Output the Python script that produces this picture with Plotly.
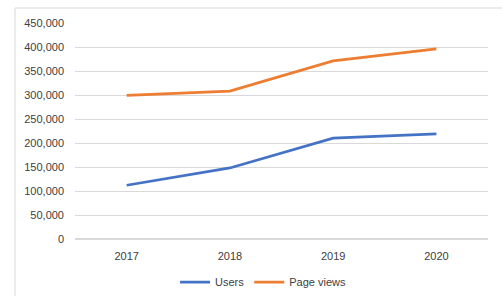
import plotly.graph_objects as go

years = ["2017", "2018", "2019", "2020"]
users = [112000, 148000, 210000, 219000]
page_views = [299000, 308000, 371000, 396000]

fig = go.Figure()
fig.add_trace(go.Scatter(x=years, y=users, mode="lines", name="Users",
                         line=dict(color="#4472C4", width=2.75)))
fig.add_trace(go.Scatter(x=years, y=page_views, mode="lines", name="Page views",
                         line=dict(color="#ED7D31", width=2.75)))

font = dict(family="Liberation Sans, Arial, sans-serif", size=11, color="#404040")
fig.update_layout(
    width=502, height=296,
    margin=dict(l=75, r=14, t=23, b=57, autoexpand=False),
    paper_bgcolor="white", plot_bgcolor="white",
    font=font,
    showlegend=True,
    legend=dict(orientation="h", xref="container", yref="container",
                x=0.524, xanchor="center", y=0.047, yanchor="middle",
                font=font, itemwidth=30, tracegroupgap=0),
    xaxis=dict(type="category", range=[-0.5, 3.5], showgrid=False, showline=False,
               ticks="", tickfont=font, zeroline=False, automargin=False,
               ticklabelstandoff=9),
    yaxis=dict(range=[0, 450000], dtick=50000, tickformat=",", showgrid=True,
               gridcolor="#D9D9D9", gridwidth=1, zeroline=True, zerolinecolor="#D9D9D9",
               showline=False, ticks="", tickfont=font, ticklabelstandoff=10,
               automargin=False),
    shapes=[dict(type="rect", xref="paper", yref="paper",
                 x0=-0.1453, x1=1.3, y0=-0.5, y1=1.0694,
                 line=dict(color="#D9D9D9", width=1), fillcolor="rgba(0,0,0,0)", layer="below")],
)
fig.write_html("out.html", config={"displayModeBar": False},
               post_script="document.body.style.margin='0';document.body.style.overflow='hidden';")
